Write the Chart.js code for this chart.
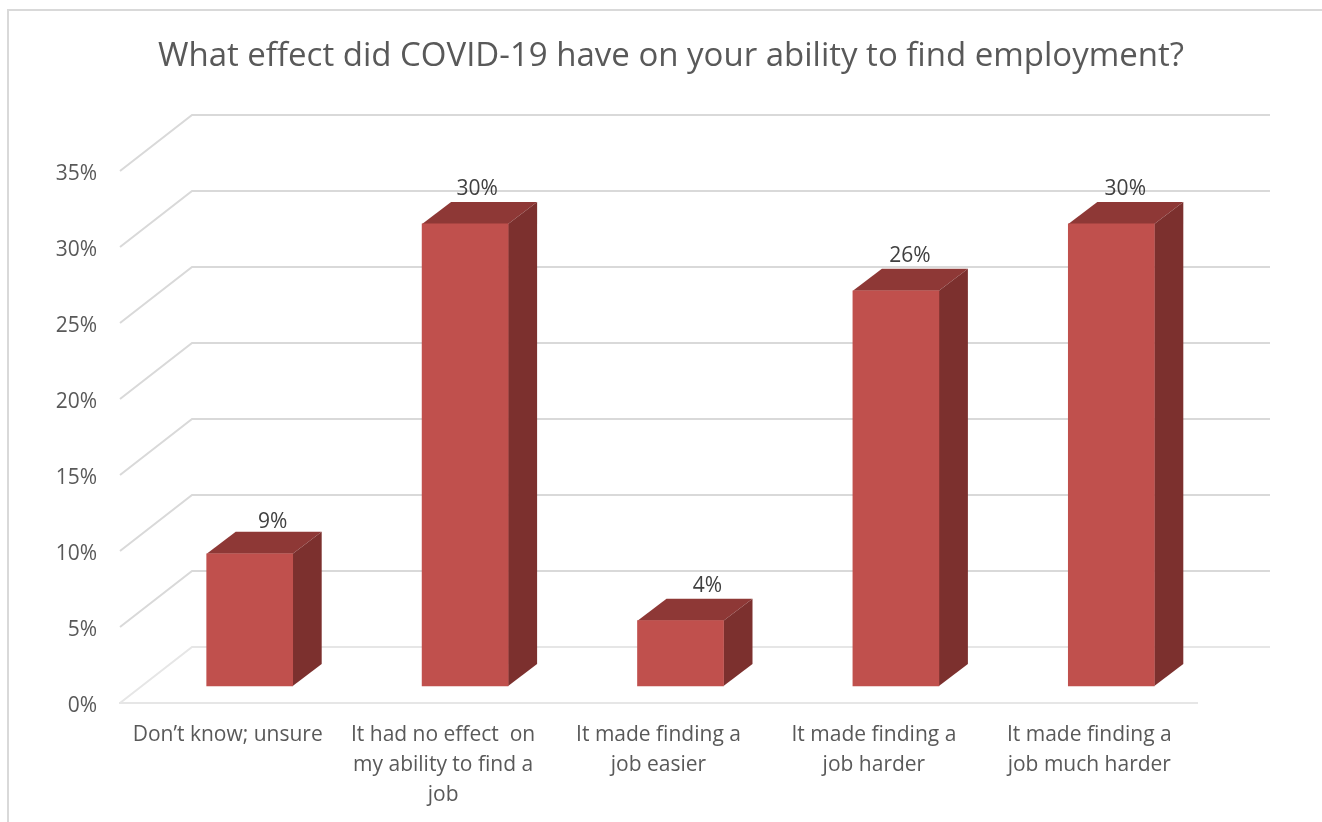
<!DOCTYPE html>
<html>
<head>
<meta charset="utf-8">
<title>COVID-19 employment chart</title>
<script src="https://cdn.jsdelivr.net/npm/chart.js@4"></script>
<style>
    html, body { margin: 0; padding: 0; background: #ffffff; }
    canvas { display: block; }
</style>
</head>
<body>
<canvas id="effectChart" width="1322" height="822"></canvas>
<script>
const chartTitle = "What effect did COVID-19 have on your ability to find employment?";

const categories = [
    ["Don\u2019t know; unsure"],
    ["It had no effect  on", "my ability to find a", "job"],
    ["It made finding a", "job easier"],
    ["It made finding a", "job harder"],
    ["It made finding a", "job much harder"]
];
const percentages = [8.7, 30.4, 4.3, 26, 30.4];

// 3D look: how far the back wall and the bars are pushed from the front axis
const WALL_DX = 72, WALL_DY = -56;
const BAR_DX = 22, BAR_DY = -17;
const DEPTH_DX = 29, DEPTH_DY = -22;
const LABEL_DX = [23, 12, 27, 14, 14];
const LABEL_DY = [-10, -13, -13, -13, -13];

const TEXT_FONT = "'Open Sans', sans-serif";

function poly(ctx, pts, color) {
    ctx.fillStyle = color;
    ctx.beginPath();
    pts.forEach((p, i) => i ? ctx.lineTo(p[0], p[1]) : ctx.moveTo(p[0], p[1]));
    ctx.closePath();
    ctx.fill();
}

const box3d = {
    id: "box3d",
    beforeDraw(chart) {
        const ctx = chart.ctx;
        // outer frame, only left and top are in the picture
        ctx.save();
        ctx.strokeStyle = "#d9d9d9";
        ctx.lineWidth = 2;
        ctx.beginPath();
        ctx.moveTo(8, chart.height);
        ctx.lineTo(8, 10);
        ctx.lineTo(chart.width, 10);
        ctx.stroke();
        ctx.restore();
    },
    beforeDatasetsDraw(chart) {
        const ctx = chart.ctx, yScale = chart.scales.y, area = chart.chartArea;
        ctx.save();
        ctx.lineWidth = 2;
        yScale.ticks.forEach(t => {
            const y = yScale.getPixelForValue(t.value);
            ctx.strokeStyle = t.value === 0 ? "#e6e6e6" : "#d9d9d9";
            ctx.beginPath();
            ctx.moveTo(area.left, y);
            ctx.lineTo(area.left + WALL_DX, y + WALL_DY);
            ctx.lineTo(area.right + WALL_DX + 1, y + WALL_DY);
            ctx.stroke();
        });
        ctx.restore();
    },
    beforeDatasetDraw(chart) {
        const ctx = chart.ctx;
        ctx.save();
        ctx.translate(BAR_DX, BAR_DY);
        chart.getDatasetMeta(0).data.forEach(bar => {
            const right = bar.x + bar.width / 2, left = bar.x - bar.width / 2;
            poly(ctx, [[left, bar.y], [left + DEPTH_DX, bar.y + DEPTH_DY],
                [right + DEPTH_DX, bar.y + DEPTH_DY], [right, bar.y]], "#8e3836");
            poly(ctx, [[right, bar.y], [right + DEPTH_DX, bar.y + DEPTH_DY],
                [right + DEPTH_DX, bar.base + DEPTH_DY], [right, bar.base]], "#7c302e");
        });
    },
    afterDatasetDraw(chart) {
        chart.ctx.restore();
    },
    afterDatasetsDraw(chart) {
        const ctx = chart.ctx;
        ctx.save();
        ctx.fillStyle = "#404040";
        ctx.font = "21px " + TEXT_FONT;
        ctx.textAlign = "center";
        ctx.textBaseline = "middle";
        chart.getDatasetMeta(0).data.forEach((bar, i) => {
            ctx.fillText(Math.round(percentages[i]) + "%",
                bar.x + BAR_DX + LABEL_DX[i],
                bar.y + BAR_DY + DEPTH_DY + LABEL_DY[i]);
        });
        ctx.restore();
    }
};

new Chart(document.getElementById("effectChart").getContext("2d"), {
    type: "bar",
    data: {
        labels: categories,
        datasets: [{
            data: percentages,
            backgroundColor: "#c0504d",
            borderWidth: 0,
            barThickness: 86,
            clip: false
        }]
    },
    plugins: [box3d],
    options: {
        responsive: false,
        animation: false,
        layout: { padding: { left: 20, right: 0, top: 0, bottom: 0 } },
        plugins: {
            legend: { display: false },
            tooltip: { enabled: false },
            title: {
                display: true,
                text: chartTitle,
                color: "#595959",
                font: { family: TEXT_FONT, size: 33, weight: "normal", lineHeight: 1.2 },
                padding: { top: 37, bottom: 94.4 }
            }
        },
        scales: {
            x: {
                grid: { display: false },
                border: { color: "#e6e6e6", width: 2 },
                ticks: {
                    color: "#595959",
                    font: { family: TEXT_FONT, size: 21, lineHeight: 1.43 },
                    padding: 9,
                    autoSkip: false,
                    maxRotation: 0
                },
                afterFit(scale) { scale.height = 119; }
            },
            y: {
                min: 0,
                max: 35,
                grid: { display: false },
                border: { display: false },
                ticks: {
                    stepSize: 5,
                    color: "#595959",
                    font: { family: TEXT_FONT, size: 21 },
                    padding: 15,
                    labelOffset: 3,
                    callback: value => value + "%"
                },
                afterFit(scale) { scale.width = 100; }
            },
            // empty axis, keeps the right margin without moving the title
            spare: {
                position: "right",
                grid: { display: false },
                border: { display: false },
                ticks: { display: false },
                afterFit(scale) { scale.width = 125; }
            }
        }
    }
});
</script>
</body>
</html>
